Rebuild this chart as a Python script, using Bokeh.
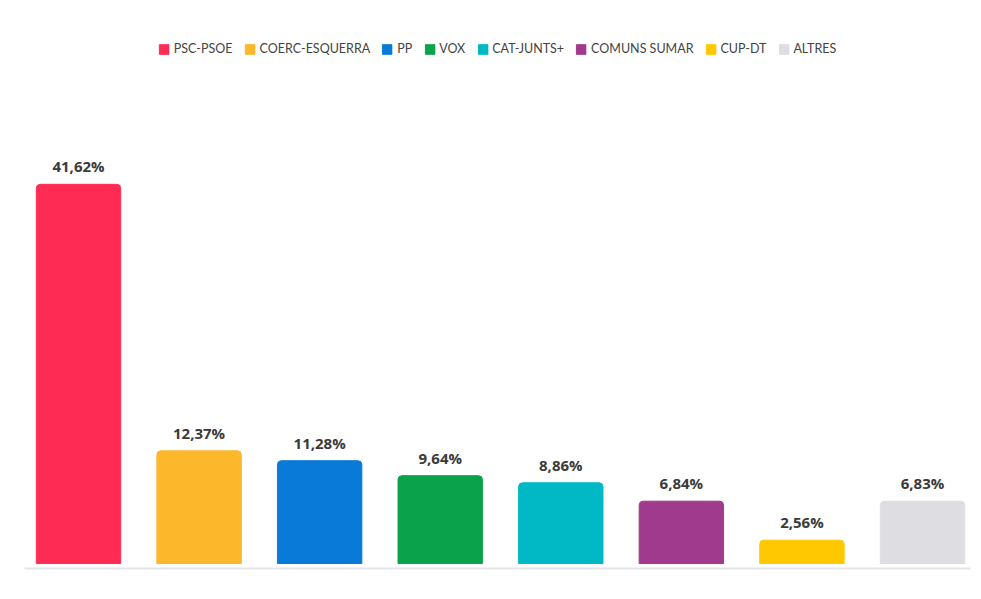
from bokeh.plotting import figure
from bokeh.models import ColumnDataSource, Legend, LegendItem, Range1d
from bokeh.core.properties import value
from bokeh.embed import file_html
from bokeh.resources import INLINE

parties = ["PSC-PSOE", "COERC-ESQUERRA", "PP", "VOX", "CAT-JUNTS+", "COMUNS SUMAR", "CUP-DT", "ALTRES"]
shares = [41.62, 12.37, 11.28, 9.64, 8.86, 6.84, 2.56, 6.83]
labels = ["41,62%", "12,37%", "11,28%", "9,64%", "8,86%", "6,84%", "2,56%", "6,83%"]
colors = ["#FE2C55", "#FDB72B", "#0A7AD8", "#0AA34C", "#00B9C4", "#A03A8C", "#FFC800", "#DDDDE2"]

xs = list(range(len(parties)))
src = ColumnDataSource(dict(x=xs, share=shares, label=labels, color=colors, party=parties))

p = figure(width=978, height=592, output_backend="svg", toolbar_location=None,
           x_range=Range1d(-0.448, 7.398), y_range=Range1d(-0.55, 57.3),
           min_border_left=24, min_border_right=8, min_border_top=41, min_border_bottom=24)

r = p.vbar(x="x", top="share", bottom=0, width=0.7, color="color", source=src,
           border_radius=(4, 4, 0, 0))

p.text(x="x", y="share", text="label", source=src, text_align="center", text_baseline="bottom",
       y_offset=-8, text_font=value("Open Sans"), text_font_size="15px", text_font_style="bold",
       text_color="#3A3A3A")

items = [LegendItem(label=parties[i], renderers=[r], index=i) for i in range(len(parties))]
legend = Legend(items=items, orientation="horizontal", location="top_center",
                margin=0, padding=2, spacing=11, label_standoff=4, label_width=10,
                glyph_width=12, glyph_height=12, label_height=14,
                label_text_font="Lato", label_text_font_size="12.5px", label_text_color="#444444",
                border_line_color=None, background_fill_alpha=0)
p.add_layout(legend, "center")

p.grid.visible = False
p.yaxis.visible = False
p.xaxis.major_tick_line_color = None
p.xaxis.minor_tick_line_color = None
p.xaxis.major_label_text_font_size = "0px"
p.xaxis.axis_line_color = "#E3E5E8"
p.xaxis.axis_line_width = 2
p.outline_line_color = None

open("out.html", "w").write(file_html(p, INLINE))
